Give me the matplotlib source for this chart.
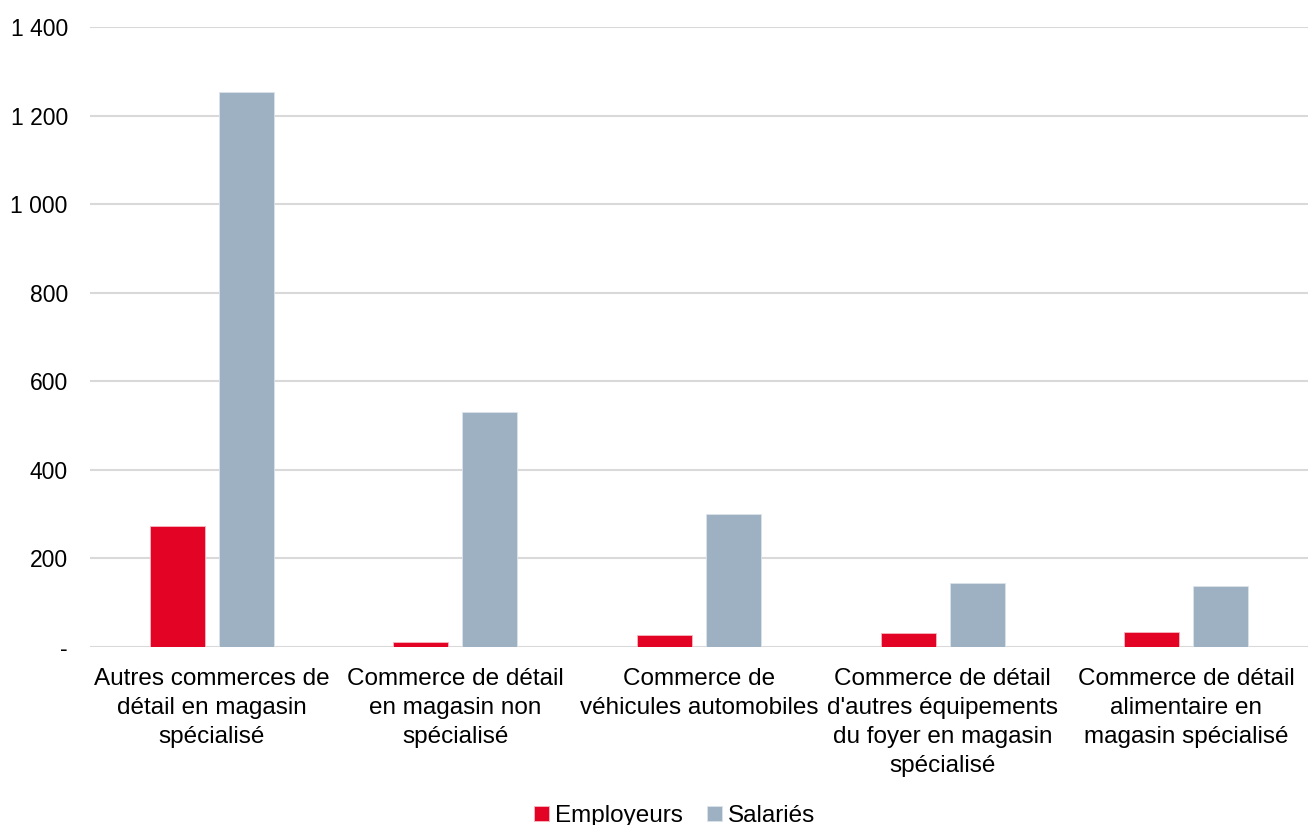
import matplotlib.pyplot as plt
import numpy as np
from matplotlib.ticker import FuncFormatter

plt.rcParams['font.family'] = ['Liberation Sans', 'DejaVu Sans']

categories = [
    "Autres commerces de\ndétail en magasin\nspécialisé",
    "Commerce de détail\nen magasin non\nspécialisé",
    "Commerce de\nvéhicules automobiles",
    "Commerce de détail\nd'autres équipements\ndu foyer en magasin\nspécialisé",
    "Commerce de détail\nalimentaire en\nmagasin spécialisé",
]
employeurs = [273, 11, 27, 31, 33]
salaries = [1253, 530, 300, 144, 138]
yticks = [0, 200, 400, 600, 800, 1000, 1200, 1400]

red = "#E30425"
grey = "#9DB1C2"

fig = plt.figure(figsize=(13.08, 8.25), dpi=100)
ax = fig.add_axes([90 / 1308, 1 - 647 / 825, 1 - 90 / 1308, (647 - 27) / 825])

x = np.arange(len(categories))
w = 0.226
off = (w + 0.057) / 2
ax.bar(x - off, employeurs, w, color=red, edgecolor="#F5B8C2", linewidth=0.6,
       label="Employeurs", zorder=3)
ax.bar(x + off, salaries, w, color=grey, edgecolor="#DCE3EA", linewidth=0.6,
       label="Salariés", zorder=3)

ax.set_xlim(-0.5, len(categories) - 0.5)
ax.set_ylim(0, 1400)
ax.set_yticks(yticks)


def fmt(v, pos):
    if v == 0:
        return "-"
    return f"{int(v):,}".replace(",", " ")


ax.yaxis.set_major_formatter(FuncFormatter(fmt))
ax.grid(axis="y", color="#D9D9D9", linewidth=1.5, zorder=0)
for s in ax.spines.values():
    s.set_visible(False)
ax.tick_params(axis="both", length=0)
ax.tick_params(axis="y", pad=16, labelsize=16.5)
ax.tick_params(axis="x", pad=15, labelsize=17.5)
ax.set_xticks(x)
ax.set_xticklabels(categories, linespacing=1.42)

ax.legend(loc="center", bbox_to_anchor=(0.48, -0.273), ncol=2, frameon=False,
          fontsize=17.5, handlelength=0.6, handleheight=0.6, handletextpad=0.25,
          columnspacing=1.0)

fig.savefig("out.png", dpi=100)
